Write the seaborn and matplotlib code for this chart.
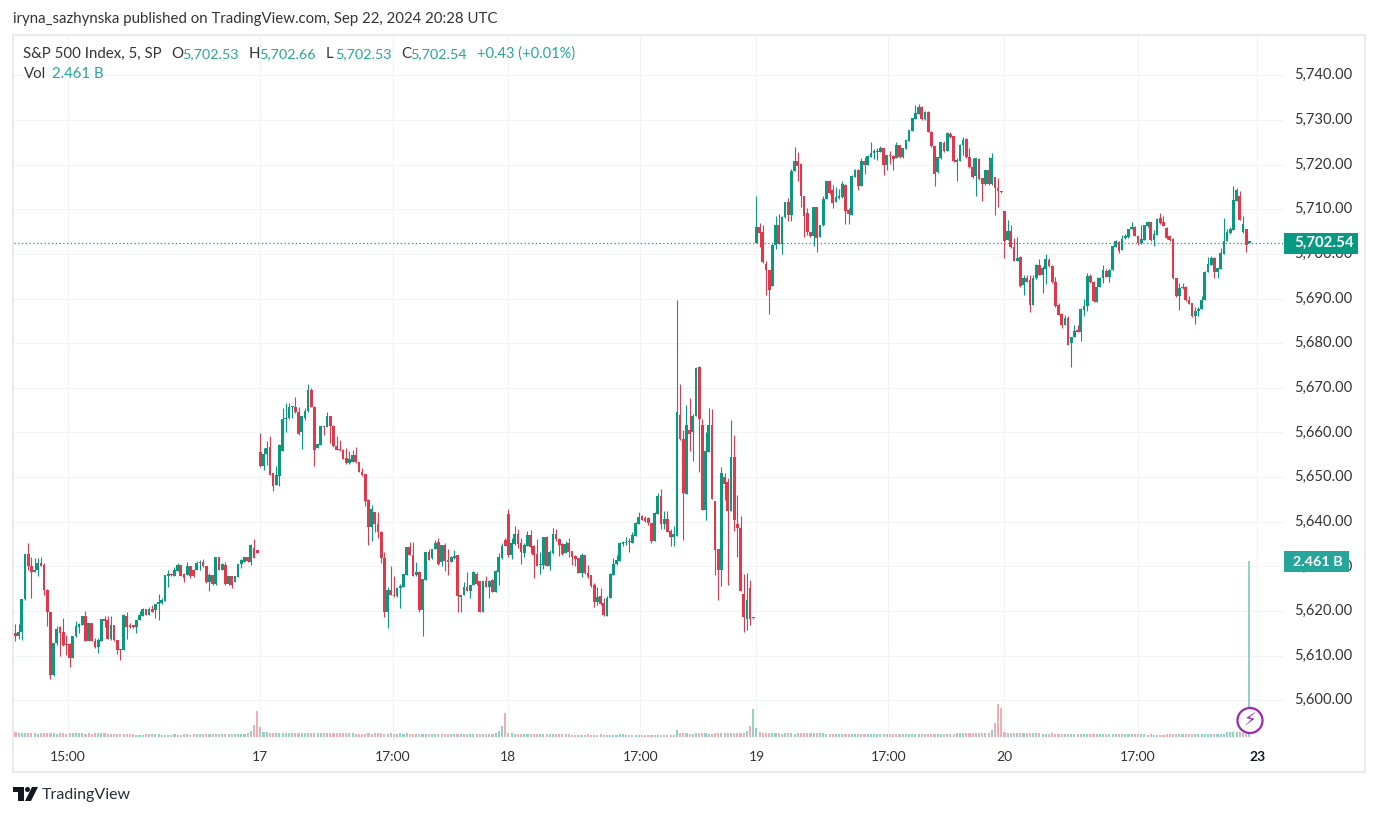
import numpy as np
import pandas as pd
import seaborn as sns
import matplotlib
matplotlib.use("Agg")
import matplotlib.pyplot as plt
from matplotlib.patches import Rectangle, Ellipse, Polygon
from matplotlib.transforms import ScaledTranslation

# ---- data (S&P 500, 5 minute bars) ----
open_16 = [5615.1,5614.5,5615.4,5622.7,5632.8,5630.1,5628.8,5629.1,5630.7,5630.4,
5624.8,5619.9,5605.7,5612.8,5616.5,5615.3,5612.7,5612.6,5609.5,5614.5,
5616.4,5616.9,5619.0,5613.4,5617.3,5613.4,5611.9,5613.4,5618.3,5617.9,
5613.8,5616.9,5613.6,5611.3,5611.2,5619.0,5616.8,5616.9,5616.4,5617.9,
5619.0,5620.4,5619.2,5620.4,5620.3,5621.5,5621.8,5622.2,5627.8,5628.1,
5627.9,5628.9,5630.4,5628.4,5628.1,5630.0,5629.1,5629.1,5630.7,5631.0,
5630.0,5626.4,5628.1,5626.1,5632.1,5629.2,5630.4,5626.1,5627.9,5626.4,
5627.6,5630.6,5631.1,5632.1,5631.1,5634.1,5633.7]
high_16 = [5617.1,5617.1,5622.7,5632.8,5635.2,5632.2,5631.9,5631.9,5632.2,5630.7,
5624.9,5619.9,5612.8,5616.6,5616.7,5618.4,5614.7,5612.8,5614.5,5617.7,
5617.3,5619.0,5620.1,5617.3,5617.3,5613.9,5613.9,5618.3,5619.0,5618.8,
5618.8,5616.9,5613.6,5611.5,5619.4,5619.8,5617.3,5616.9,5618.1,5620.1,
5620.8,5620.4,5620.9,5621.4,5621.6,5623.9,5622.9,5628.0,5629.1,5628.5,
5629.8,5630.7,5630.4,5628.5,5631.0,5630.1,5629.4,5631.3,5631.5,5631.6,
5630.1,5628.5,5628.1,5632.2,5632.1,5630.7,5631.0,5627.9,5627.9,5627.8,
5630.5,5631.6,5632.1,5632.2,5635.1,5636.1,5633.7]
low_16 = [5613.4,5613.7,5613.6,5622.5,5629.2,5622.9,5628.7,5627.8,5630.0,5623.7,
5616.6,5604.8,5605.4,5612.5,5609.9,5612.2,5610.2,5607.4,5609.5,5614.3,
5615.1,5616.9,5613.4,5613.2,5613.2,5611.7,5610.7,5613.4,5616.4,5613.8,
5613.6,5613.4,5610.4,5609.0,5611.2,5613.8,5616.3,5616.2,5615.2,5617.9,
5618.9,5619.2,5619.2,5619.8,5618.4,5617.9,5621.6,5622.2,5625.5,5627.8,
5627.8,5628.9,5627.8,5626.6,5628.1,5627.4,5627.6,5629.1,5629.1,5629.8,
5626.3,5624.4,5625.9,5625.9,5629.1,5629.1,5625.9,5625.9,5625.1,5626.4,
5627.6,5629.6,5631.1,5631.1,5630.4,5631.9,5633.1]
close_16 = [5614.5,5615.4,5622.7,5632.8,5630.0,5628.7,5629.2,5630.7,5630.2,5624.8,
5619.9,5605.7,5612.8,5616.0,5615.2,5612.5,5612.3,5609.5,5614.5,5616.6,
5617.2,5619.0,5613.4,5617.3,5613.4,5611.9,5613.6,5618.3,5617.7,5613.8,
5616.9,5613.6,5611.2,5611.2,5619.2,5616.4,5616.4,5616.4,5618.1,5619.2,
5620.4,5619.2,5620.4,5619.9,5621.6,5622.1,5622.4,5628.0,5628.4,5628.0,
5629.1,5630.4,5627.8,5627.4,5630.0,5627.8,5627.8,5630.7,5631.0,5630.0,
5626.4,5628.1,5626.1,5632.1,5629.1,5630.5,5626.1,5627.9,5625.9,5627.8,
5630.5,5631.5,5632.1,5631.3,5634.8,5631.9,5633.1]

open_17 = [5655.6,5652.4,5655.1,5656.7,5650.9,5648.3,5650.2,5655.8,5663.1,5663.2,
5665.7,5665.7,5664.6,5660.0,5663.2,5664.7,5669.6,5665.8,5656.5,5657.3,
5661.4,5661.2,5663.6,5661.5,5657.0,5656.3,5656.1,5654.2,5653.1,5653.5,
5655.0,5653.4,5651.1,5650.8,5644.9,5638.8,5642.2,5639.5,5637.8,5631.9,
5619.7,5624.8,5623.7,5623.3,5625.2,5625.5,5628.0,5634.3,5632.6,5628.0,
5628.7,5620.3,5627.0,5633.2,5631.9,5633.8,5635.4,5631.1,5634.9,5631.4,
5631.0,5631.9,5632.5,5623.2,5623.5,5625.4,5624.4,5625.8,5628.3,5626.7,
5619.9,5626.7,5625.5,5627.0,5624.3,5628.8,5631.9,5636.0]
high_17 = [5659.9,5656.5,5658.2,5659.1,5650.9,5652.6,5657.4,5665.5,5666.7,5666.7,
5666.0,5667.9,5665.7,5663.7,5665.5,5670.8,5669.9,5666.0,5657.5,5661.5,
5661.5,5664.6,5663.6,5661.7,5659.1,5658.4,5656.4,5656.5,5655.8,5656.0,
5656.7,5653.5,5652.0,5650.8,5645.1,5643.8,5642.3,5642.2,5638.0,5633.2,
5625.5,5630.2,5627.8,5625.5,5626.1,5628.2,5634.3,5635.4,5635.5,5631.1,
5628.9,5627.2,5633.2,5633.9,5634.0,5636.0,5636.4,5634.9,5635.2,5633.8,
5632.4,5633.6,5632.5,5623.7,5626.4,5628.7,5625.9,5628.9,5628.7,5626.7,
5626.7,5627.8,5627.0,5627.2,5629.3,5633.0,5635.2,5636.4]
low_17 = [5652.3,5651.5,5652.7,5650.5,5646.8,5648.3,5648.1,5655.8,5660.0,5663.1,
5663.2,5664.3,5659.5,5656.3,5662.9,5664.6,5665.7,5652.6,5656.5,5657.3,
5659.5,5661.2,5657.6,5656.7,5656.0,5655.8,5654.0,5653.0,5653.0,5653.3,
5653.1,5651.1,5650.2,5643.6,5634.7,5635.8,5637.8,5636.4,5630.8,5618.6,
5616.2,5623.5,5623.2,5623.2,5620.8,5625.5,5628.0,5632.5,5627.8,5627.8,
5619.8,5614.4,5627.0,5631.5,5631.7,5633.8,5630.4,5630.2,5628.9,5628.0,
5631.0,5631.7,5619.9,5619.7,5623.5,5624.5,5622.9,5625.8,5625.9,5619.8,
5619.9,5625.4,5622.9,5624.2,5624.3,5625.9,5631.7,5634.5]
close_17 = [5652.4,5655.2,5656.5,5650.5,5648.1,5650.5,5657.3,5663.0,5663.2,5665.7,
5666.0,5664.5,5659.7,5663.6,5664.7,5669.6,5665.8,5656.0,5657.5,5661.4,
5661.2,5663.6,5661.5,5656.9,5656.1,5656.1,5654.1,5653.1,5654.0,5655.0,
5653.3,5651.1,5650.5,5644.6,5638.8,5642.9,5639.6,5637.8,5631.9,5619.7,
5624.8,5623.5,5623.3,5625.2,5625.7,5628.2,5634.3,5632.6,5627.8,5628.7,
5620.3,5627.2,5633.2,5631.5,5634.0,5635.2,5630.5,5634.9,5631.3,5631.1,
5632.0,5632.3,5623.3,5623.5,5625.4,5624.6,5625.9,5628.7,5626.1,5619.9,
5626.7,5625.5,5626.8,5624.3,5628.9,5632.0,5634.6,5634.5]

open_18 = [5641.8,5632.6,5635.1,5637.3,5635.2,5633.1,5634.5,5637.1,5634.5,5632.8,
5630.3,5630.3,5636.6,5630.1,5633.0,5637.3,5636.2,5635.1,5633.1,5635.2,
5633.5,5632.4,5631.8,5628.6,5632.6,5628.5,5628.0,5625.9,5622.1,5623.4,
5621.8,5619.0,5622.9,5628.1,5630.6,5631.3,5635.1,5635.2,5635.8,5635.2,
5636.9,5639.5,5641.2,5640.8,5640.8,5639.7,5635.8,5641.8,5645.8,5639.5,
5640.6,5638.0,5636.5,5636.9,5663.9,5658.5,5646.2,5660.6,5660.0,5663.6,
5674.7,5661.7,5642.7,5655.7,5661.7,5644.7,5633.9,5629.1,5650.1,5649.0,
5642.5,5654.4,5639.5,5638.6,5623.9,5618.2,5625.1,5618.4]
high_18 = [5642.9,5636.3,5639.1,5638.4,5636.3,5635.2,5638.0,5638.2,5634.8,5636.1,
5633.3,5636.5,5636.8,5633.7,5638.6,5638.4,5636.3,5635.2,5635.6,5636.3,
5633.5,5632.6,5631.8,5633.0,5632.6,5630.4,5628.1,5626.3,5625.5,5625.1,
5622.9,5623.3,5628.5,5631.8,5632.6,5635.4,5635.6,5636.5,5636.3,5637.8,
5639.9,5642.1,5641.5,5641.3,5641.0,5639.8,5642.1,5646.4,5647.3,5642.5,
5642.5,5638.3,5639.1,5689.7,5670.9,5660.6,5666.2,5667.7,5664.2,5674.6,
5674.9,5663.0,5660.2,5665.4,5665.2,5644.7,5633.9,5652.2,5651.0,5649.8,
5662.7,5659.4,5646.0,5641.2,5628.3,5628.5,5627.0,5618.5]
low_18 = [5632.0,5631.7,5634.8,5634.1,5630.6,5632.1,5634.5,5633.0,5627.3,5630.0,
5628.3,5629.4,5630.0,5629.2,5632.8,5635.6,5632.4,5632.6,5633.0,5632.2,
5630.4,5630.1,5628.5,5627.7,5628.3,5627.4,5625.5,5621.0,5621.4,5621.4,
5618.8,5619.0,5622.9,5628.1,5630.4,5631.3,5634.5,5634.8,5633.3,5635.2,
5636.9,5639.5,5640.3,5639.9,5639.3,5635.2,5635.8,5641.8,5638.3,5638.3,
5637.8,5634.6,5634.5,5636.9,5658.3,5635.9,5646.2,5655.9,5653.7,5663.6,
5651.1,5642.7,5640.4,5655.7,5645.1,5628.1,5622.4,5625.7,5644.8,5625.9,
5642.5,5638.0,5632.2,5624.4,5615.4,5615.7,5616.9,5618.3]
close_18 = [5632.6,5635.2,5637.3,5635.1,5633.3,5634.7,5637.1,5634.3,5632.6,5630.1,
5630.6,5636.5,5630.1,5633.3,5637.3,5636.2,5634.8,5632.8,5635.1,5633.3,
5632.2,5631.6,5628.6,5632.6,5628.5,5627.6,5625.7,5622.1,5623.1,5621.6,
5619.2,5622.9,5628.3,5630.6,5631.5,5635.2,5635.4,5635.4,5635.5,5637.1,
5639.7,5641.0,5640.4,5640.1,5639.7,5635.8,5641.9,5645.8,5639.5,5640.6,
5637.8,5636.5,5637.2,5664.5,5658.5,5646.5,5661.7,5659.7,5663.7,5674.4,
5663.0,5642.7,5655.9,5661.7,5645.1,5633.7,5629.1,5651.0,5648.5,5642.5,
5654.4,5640.3,5638.5,5624.4,5618.6,5622.5,5618.2,5618.5]

open_19 = [5702.4,5706.0,5704.9,5697.8,5696.5,5692.9,5702.0,5706.5,5702.3,5708.2,
5711.7,5708.8,5718.5,5720.8,5720.2,5713.0,5709.1,5705.0,5703.9,5710.5,
5703.8,5706.4,5712.3,5716.4,5714.2,5711.7,5712.6,5712.7,5715.5,5709.9,
5708.8,5717.3,5718.8,5715.3,5720.7,5719.8,5721.8,5722.7,5722.9,5722.9,
5723.7,5720.0,5722.1,5722.0,5721.4,5724.4,5721.6,5723.5,5725.3,5727.6,
5730.2,5731.4,5732.9,5730.2,5731.7,5727.4,5724.2,5718.3,5721.4,5724.8,
5723.1,5726.9,5726.3,5720.5,5720.8,5724.3,5725.7,5721.8,5719.4,5717.5,
5721.2,5717.0,5715.6,5718.8,5715.6,5717.2,5714.7,5713.9]
high_19 = [5713.0,5707.0,5706.5,5698.3,5696.5,5702.3,5708.5,5709.0,5708.4,5711.7,
5712.5,5719.0,5723.9,5722.8,5720.3,5713.0,5710.3,5705.0,5710.5,5710.6,
5706.5,5712.9,5716.4,5716.6,5715.5,5714.9,5714.5,5716.4,5715.6,5710.3,
5717.7,5719.0,5719.0,5721.4,5721.8,5722.2,5725.1,5723.5,5723.7,5724.2,
5723.8,5722.2,5723.1,5722.2,5725.0,5724.4,5723.7,5725.5,5727.8,5730.4,
5733.4,5733.5,5733.2,5731.9,5731.9,5727.6,5724.2,5721.8,5725.0,5725.2,
5727.2,5727.2,5726.3,5721.4,5724.6,5726.1,5725.9,5723.7,5721.4,5721.4,
5721.4,5717.1,5718.8,5721.7,5722.6,5717.2,5717.0,5714.0]
low_19 = [5702.4,5701.5,5698.0,5690.7,5686.6,5692.9,5701.1,5702.3,5700.0,5708.1,
5707.3,5707.3,5718.5,5716.4,5710.4,5703.8,5704.3,5703.8,5701.7,5700.5,
5703.8,5706.3,5712.3,5713.5,5710.3,5711.7,5712.4,5712.6,5706.7,5706.7,
5708.8,5717.2,5714.2,5715.3,5717.9,5719.8,5721.8,5721.2,5721.1,5722.8,
5717.7,5718.8,5720.2,5718.7,5721.4,5721.4,5721.4,5723.5,5725.3,5727.6,
5730.2,5731.4,5730.0,5729.9,5727.4,5723.9,5715.3,5718.2,5721.2,5722.9,
5723.1,5725.9,5720.5,5716.4,5720.7,5722.2,5721.4,5719.2,5717.0,5712.9,
5716.6,5711.9,5715.5,5715.5,5715.5,5708.8,5710.6,5713.7]
close_19 = [5706.0,5704.7,5698.1,5696.3,5692.0,5702.0,5706.5,5702.3,5708.2,5711.7,
5708.6,5718.6,5720.8,5719.7,5713.0,5708.4,5704.8,5704.1,5710.5,5703.5,
5706.4,5712.3,5716.4,5713.6,5711.5,5712.7,5712.9,5715.6,5709.5,5708.9,
5717.5,5718.8,5715.3,5720.8,5719.8,5722.0,5722.6,5722.9,5723.1,5723.7,
5720.0,5722.2,5722.0,5721.3,5724.4,5721.6,5723.7,5725.4,5727.8,5730.4,
5731.5,5732.9,5730.2,5731.7,5727.4,5724.1,5717.9,5721.7,5725.0,5723.1,
5727.0,5726.1,5720.7,5721.1,5724.4,5725.5,5721.7,5719.4,5717.2,5721.4,
5716.8,5715.6,5718.8,5715.6,5721.4,5714.7,5714.0,5713.8]

open_20 = [5709.6,5703.1,5705.1,5701.5,5698.5,5699.4,5693.1,5694.6,5694.2,5688.6,
5694.6,5697.5,5695.3,5696.7,5698.7,5697.3,5693.7,5688.6,5686.6,5684.0,
5685.6,5680.0,5681.3,5682.9,5682.4,5687.5,5688.4,5695.1,5693.8,5689.3,
5692.5,5694.6,5696.1,5694.9,5696.3,5701.6,5702.6,5700.9,5703.5,5703.7,
5705.5,5706.1,5704.1,5702.4,5703.1,5706.3,5707.2,5703.1,5704.3,5708.0,
5707.2,5705.9,5703.9,5703.4,5694.7,5690.5,5692.3,5692.5,5689.7,5689.0,
5686.0,5687.1,5687.6,5689.6,5696.0,5697.5,5699.0,5696.0,5696.6,5700.0,
5702.9,5704.6,5705.4,5711.9,5713.0,5704.8,5705.5,5702.53]
high_20 = [5709.6,5707.6,5706.5,5703.5,5703.7,5699.6,5695.3,5695.3,5695.3,5695.3,
5697.8,5698.8,5697.2,5700.0,5699.0,5697.5,5694.9,5689.0,5686.7,5686.3,
5686.0,5681.3,5684.1,5684.1,5687.8,5689.9,5695.7,5695.5,5694.0,5694.9,
5694.9,5697.5,5696.6,5696.6,5701.8,5703.1,5702.8,5704.3,5704.5,5705.6,
5707.2,5706.3,5704.1,5706.5,5706.5,5707.4,5707.2,5705.4,5708.0,5709.1,
5708.4,5706.1,5704.0,5703.5,5694.7,5693.4,5693.4,5692.7,5690.5,5689.1,
5688.2,5688.1,5690.6,5696.2,5699.3,5699.6,5699.2,5696.9,5701.3,5708.0,
5705.5,5706.0,5715.1,5714.7,5714.0,5708.4,5705.6,5702.66]
low_20 = [5699.0,5703.1,5701.3,5698.5,5698.5,5692.5,5690.8,5693.7,5686.9,5688.6,
5694.3,5695.2,5691.3,5693.2,5697.0,5693.4,5688.2,5686.2,5683.3,5684.0,
5679.5,5674.6,5681.3,5682.4,5680.5,5686.1,5687.1,5693.4,5689.3,5689.3,
5692.5,5693.4,5694.8,5693.8,5696.3,5701.6,5700.3,5700.9,5703.3,5703.5,
5705.5,5704.1,5702.0,5702.2,5703.1,5706.1,5702.8,5701.8,5704.3,5706.7,
5706.3,5703.3,5702.8,5694.3,5690.3,5687.5,5692.1,5689.5,5688.7,5685.8,
5684.3,5686.0,5687.6,5689.6,5695.9,5697.5,5694.6,5694.7,5696.6,5700.0,
5702.9,5704.5,5705.4,5711.9,5707.6,5704.6,5700.5,5702.53]
close_20 = [5702.8,5705.1,5701.5,5698.5,5699.0,5692.7,5694.6,5693.8,5688.6,5694.6,
5697.5,5695.3,5696.8,5698.8,5697.2,5693.6,5688.4,5686.3,5684.0,5685.6,
5679.6,5681.3,5682.7,5682.5,5687.6,5688.4,5695.1,5693.6,5689.5,5692.5,
5694.7,5696.4,5694.9,5696.4,5701.8,5702.8,5700.7,5703.3,5703.9,5705.6,
5706.0,5704.1,5702.4,5703.3,5706.5,5707.1,5703.0,5704.4,5707.8,5706.9,
5706.3,5703.5,5703.0,5694.6,5690.5,5692.3,5692.5,5689.7,5688.8,5686.0,
5687.3,5687.6,5689.7,5696.0,5697.7,5699.0,5696.0,5696.8,5700.2,5702.9,
5704.8,5705.6,5712.1,5714.2,5707.6,5706.7,5702.0,5702.54]

# volume in billions
vol_16 = [.065,.06,.06,.06,.058,.05,.05,.045,.05,.05,
.05,.05,.05,.048,.05,.05,.045,.05,.05,.05,
.05,.05,.045,.05,.045,.05,.05,.05,.05,.035,
.04,.035,.035,.035,.04,.035,.035,.035,.03,.03,
.03,.035,.035,.04,.035,.035,.03,.03,.03,.03,
.035,.03,.03,.035,.035,.03,.035,.04,.035,.035,
.04,.04,.04,.04,.04,.04,.04,.04,.04,.04,
.04,.04,.045,.055,.084,.17,.36]
vol_17 = [.14,.065,.065,.06,.06,.06,.05,.055,.05,.05,
.05,.05,.05,.05,.05,.05,.05,.05,.05,.05,
.05,.05,.055,.05,.05,.05,.05,.05,.05,.05,
.04,.045,.04,.04,.05,.045,.05,.05,.05,.04,
.04,.05,.04,.04,.05,.04,.05,.04,.04,.04,
.04,.04,.04,.04,.035,.04,.04,.04,.035,.035,
.035,.035,.04,.035,.035,.04,.04,.04,.04,.045,
.04,.045,.045,.045,.05,.084,.15,.335]
vol_18 = [.056,.055,.04,.04,.04,.04,.04,.04,.04,.04,
.04,.04,.04,.04,.04,.04,.04,.04,.04,.04,
.03,.03,.03,.03,.03,.04,.03,.03,.03,.04,
.03,.03,.03,.03,.03,.04,.035,.03,.03,.03,
.03,.03,.03,.03,.03,.03,.03,.03,.03,.03,
.03,.03,.03,.093,.05,.05,.05,.04,.04,.05,
.055,.05,.05,.04,.045,.05,.05,.05,.05,.05,
.05,.05,.05,.05,.055,.08,.15,.387]
vol_19 = [.13,.065,.06,.055,.05,.05,.05,.05,.045,.05,
.05,.05,.04,.05,.05,.05,.05,.05,.05,.05,
.05,.05,.04,.04,.04,.04,.04,.04,.04,.04,
.04,.04,.04,.04,.035,.04,.035,.04,.04,.04,
.035,.04,.035,.04,.04,.035,.04,.04,.04,.04,
.04,.035,.04,.04,.04,.04,.04,.04,.04,.04,
.04,.04,.045,.05,.05,.05,.05,.05,.05,.05,
.05,.05,.05,.056,.10,.196,.457,.41]
vol_20 = [.07,.06,.06,.05,.05,.055,.055,.05,.05,.05,
.05,.05,.045,.045,.045,.05,.045,.045,.045,.045,
.04,.04,.04,.04,.04,.04,.04,.04,.04,.04,
.04,.04,.045,.045,.04,.04,.04,.035,.04,.04,
.035,.035,.045,.035,.035,.03,.035,.03,.03,.03,
.03,.035,.035,.035,.04,.04,.04,.04,.04,.035,
.04,.04,.035,.04,.04,.04,.045,.04,.04,.045,
.065,.065,.065,.07,.065,.05,.04,2.461]

axis_prices = [5600,5610,5620,5630,5640,5650,5660,5670,5680,5690,5700,5710,5720,5730,5740]
axis_price_labels = ["5,600.00","5,610.00","5,620.00","5,630.00","5,640.00","5,650.00","5,660.00","5,670.00",
                     "5,680.00","5,690.00","5,700.00","5,710.00","5,720.00","5,730.00","5,740.00"]
time_ticks = [16.5,77,118.7,155,196.5,233,274.5,311,352.9,390.5]
time_labels = ["15:00","17","17:00","18","17:00","19","17:00","20","17:00","23"]
last_price = 5702.54
last_volume = 2.461

opens = np.array(open_16+open_17+open_18+open_19+open_20)
highs = np.array(high_16+high_17+high_18+high_19+high_20)
lows = np.array(low_16+low_17+low_18+low_19+low_20)
closes = np.array(close_16+close_17+close_18+close_19+close_20)
volumes = np.array(vol_16+vol_17+vol_18+vol_19+vol_20)

idx = np.arange(len(opens))
up = closes >= opens
frame = pd.DataFrame({"i": idx, "open": opens, "high": highs, "low": lows, "close": closes,
                      "vol": volumes, "side": np.where(up, "up", "down")})

# ---- styling ----
W, H = 1378, 816
GREEN, RED = "#089981", "#E5374B"
VOL_UP, VOL_DOWN = "#93D0CA", "#EDAFB2"
GRID = "#F2F3F5"
BORDER = "#E9EAEC"
TEXT = "#333333"
VAL = "#26A69A"
sns.set_theme(style="white")
plt.rcParams["font.family"] = ["Lato", "DejaVu Sans"]

fig = plt.figure(figsize=(W/100, H/100), dpi=100, facecolor="white")

def px(x, y):
    return x/W, 1-y/H

# chart frame
fig.add_artist(Rectangle(px(13, 772), (1365-13)/W, (772-35)/H, transform=fig.transFigure,
                         fill=False, ec=BORDER, lw=1.5))

L, R, T, B = 14, 1283, 36, 741
ax = fig.add_axes([L/W, 1-B/H, (R-L)/W, (B-T)/H], facecolor="none")
ax.set_xlim(-0.47, 398.59)
ax.set_ylim(5590.9, 5748.8)
for s in ax.spines.values():
    s.set_visible(False)
ax.yaxis.tick_right()
ax.set_yticks(axis_prices, axis_price_labels)
ax.set_xticks(time_ticks, time_labels)
ax.tick_params(axis="y", length=0, pad=8, labelsize=10.6, labelcolor=TEXT)
ax.tick_params(axis="x", length=0, pad=7, labelsize=10, labelcolor=TEXT)
ax.get_xticklabels()[-1].set_fontweight("bold")
ax.get_xticklabels()[-1].set_color("#131722")
lift = ScaledTranslation(0, 1.5/100, fig.dpi_scale_trans)
for lab in ax.get_yticklabels():
    lab.set_transform(lab.get_transform() + lift)
ax.grid(True, color=GRID, lw=0.8)
ax.set_axisbelow(True)

# volume pane sharing the chart's area
axv = fig.add_axes(ax.get_position(), facecolor="none")
sns.barplot(data=frame, x="i", y="vol", hue="side", palette={"up": VOL_UP, "down": VOL_DOWN},
            native_scale=True, dodge=False, legend=False, ax=axv, saturation=1)
for p in axv.patches:
    mid = p.get_x() + p.get_width()/2
    p.set_width(0.66)
    p.set_x(mid - 0.33)
    p.set_linewidth(0)
axv.set_xlim(ax.get_xlim())
axv.set_ylim(-0.056, 9.80)
axv.axis("off")

# candles on top
axc = fig.add_axes(ax.get_position(), facecolor="none")
axc.set_xlim(ax.get_xlim())
axc.set_ylim(ax.get_ylim())
axc.axis("off")
colors = np.where(up, GREEN, RED)
axc.vlines(idx, lows, highs, colors=colors, lw=0.8)
axc.bar(idx, np.maximum(np.abs(closes-opens), 0.25), bottom=np.minimum(opens, closes),
        width=0.86, color=colors, lw=0)
axc.axhline(last_price, color=GREEN, lw=0.9, ls=(0, (1, 2)))

def txt(x, y, s, **kw):
    kw.setdefault("color", TEXT)
    kw.setdefault("fontsize", 10.8)
    kw.setdefault("va", "center")
    fig.text(*px(x, y), s, **kw)

txt(13, 19, "iryna_sazhynska published on TradingView.com, Sep 22, 2024 20:28 UTC")
txt(23, 54, "S&P 500 Index, 5, SP")
for x, s in [(171, "O"), (249, "H"), (326, "L"), (401, "C")]:
    txt(x, 54, s)
for x, s in [(182, "5,702.53"), (259, "5,702.66"), (335, "5,702.53"), (410, "5,702.54")]:
    txt(x, 54, s, color=VAL, fontsize=10.4)
txt(477, 54, "+0.43 (+0.01%)", color=VAL, fontsize=10.5)
txt(24, 74, "Vol")
txt(52, 74, "2.461 B", color=VAL)

# price and volume tags
fig.add_artist(Rectangle(px(1284, 254), 74/W, 21/H, transform=fig.transFigure, fc=GREEN, ec="none", zorder=5))
txt(1354, 242.5, f"{last_price:,.2f}", color="white", ha="right", fontsize=10.8, fontweight="bold", zorder=6)
fig.add_artist(Rectangle(px(1284, 572), 65/W, 21/H, transform=fig.transFigure, fc="#26A69A", ec="none", zorder=5))
txt(1343, 561.5, f"{last_volume:.3f} B", color="white", ha="right", fontsize=10.4, fontweight="bold", zorder=6)

# lightning mark
fig.add_artist(Ellipse(px(1250, 720.5), 25/W, 25/H, transform=fig.transFigure,
                       fc="white", ec="#9C27B0", lw=1.6, zorder=5))
txt(1250, 720.5, "\u26A1", color="#9C27B0", ha="center", fontsize=13, family="DejaVu Sans", zorder=6)

# TradingView mark
for pts in ([(13, 787), (24, 787), (24, 801), (18, 801), (18, 792), (13, 792)],
            [(32, 787), (38, 787), (31, 801), (25, 801)]):
    fig.add_artist(Polygon([px(*p) for p in pts], transform=fig.transFigure, fc="#131722", ec="none"))
fig.add_artist(Ellipse(px(27.5, 789.5), 5/W, 5/H, transform=fig.transFigure, fc="#131722", ec="none"))
txt(42, 795, "TradingView", fontsize=11.5, color="#2A2E39")

fig.savefig("out.png", dpi=100)
